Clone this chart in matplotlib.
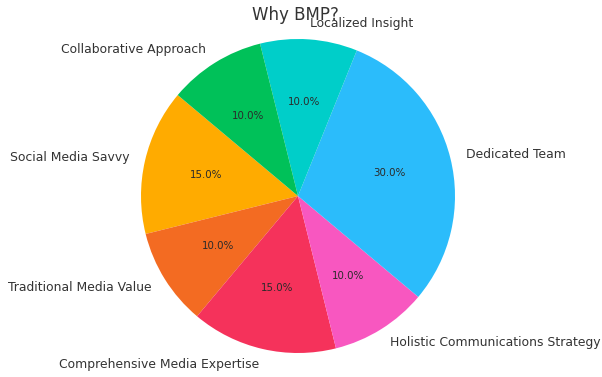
import matplotlib
matplotlib.use("Agg")
import matplotlib.pyplot as plt

labels = ["Social Media Savvy", "Traditional Media Value", "Comprehensive Media Expertise",
          "Holistic Communications Strategy", "Dedicated Team", "Localized Insight",
          "Collaborative Approach"]
values = [15, 10, 15, 10, 30, 10, 10]
colors = ["#FFAB00", "#F36B22", "#F5325B", "#F857C0", "#2BBCFB", "#00CEC9", "#00C159"]
title = "Why BMP?"

W, H = 602, 377
fig = plt.figure(figsize=(W / 100, H / 100), dpi=100)
cx, cy, R = 298, 196, 157
k = 1.25
side = 2 * k * R
ax = fig.add_axes([(cx - k * R) / W, (H - cy - k * R) / H, side / W, side / H])

wedges, texts, autotexts = ax.pie(values, labels=labels, colors=colors, startangle=140,
                                  autopct="%1.1f%%", textprops={"color": "#333333", "fontsize": 8.9},
                                  frame=True)
ax.axis("off")
ax.set_xlim(-k, k)
ax.set_ylim(-k, k)
ax.set_aspect("equal")
for t in autotexts:
    t.set_fontsize(7.4)
    t.set_color("#2a2a2a")

fig.text(295 / W, 1 - 15 / H, title, ha="center", va="center", fontsize=12, color="#333333")

fig.savefig("out.png", dpi=100)
